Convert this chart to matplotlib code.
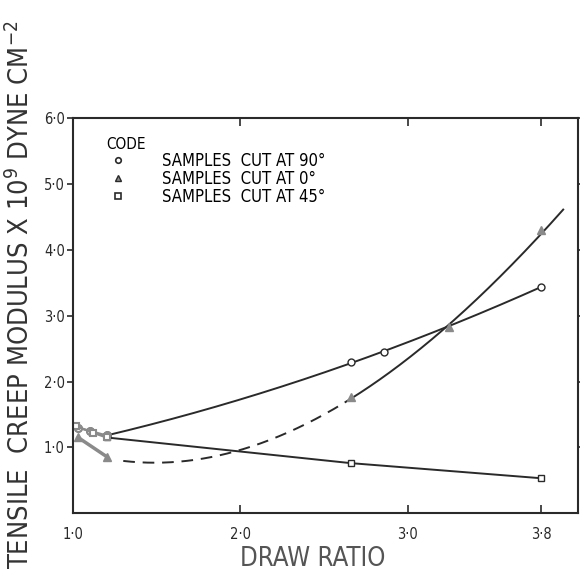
import numpy as np
import matplotlib
matplotlib.use("Agg")
import matplotlib.pyplot as plt
from matplotlib.lines import Line2D

plt.rcParams['font.family'] = ['DejaVu Sans']
plt.rcParams['font.stretch'] = 'condensed'

# ---- data ----
x90 = [1.03, 1.10, 1.20, 2.66, 2.86, 3.80]
y90 = [1.30, 1.25, 1.18, 2.29, 2.45, 3.44]

x0 = [1.03, 1.20, 2.66, 3.25, 3.80]
y0 = [1.15, 0.86, 1.77, 2.83, 4.30]

x45 = [1.02, 1.12, 1.20, 2.66, 3.80]
y45 = [1.32, 1.22, 1.15, 0.76, 0.53]

# hand-drawn guide curve for 0 deg samples (dashed part + solid part)
guide0_x = [1.30, 1.50, 2.00, 2.66, 3.25, 3.80, 3.93]
guide0_y = [0.80, 0.76, 0.95, 1.77, 2.83, 4.30, 4.58]

xticks = [1.0, 2.0, 3.0, 3.8]
xticklabels = ['1·0', '2·0', '3·0', '3·8']
yticks = [1.0, 2.0, 3.0, 4.0, 5.0, 6.0]
yticklabels = ['1·0', '2·0', '3·0', '4·0', '5·0', '6·0']

legend_labels = ['SAMPLES  CUT AT 90°', 'SAMPLES  CUT AT 0°', 'SAMPLES  CUT AT 45°']

fig = plt.figure(figsize=(5.8, 5.74), dpi=100)
ax = fig.add_axes([0.126, 0.106, 0.871, 0.688])
ax.set_xlim(1.0, 4.02)
ax.set_ylim(0, 6.0)

ink = '#2a2a2a'
grey = '#8a8a8a'

# 90 deg curve: quadratic through the plotted points beyond the cluster
p90 = np.polyfit(x90[2:], y90[2:], 2)
xx = np.linspace(x90[2], x90[-1], 200)
ax.plot(xx, np.polyval(p90, xx), color=ink, lw=1.4)
ax.plot(x90[:3], y90[:3], color=grey, lw=1.6)
ax.plot(x90, y90, 'o', ms=5, mfc='white', mec=ink, mew=1.0)
ax.plot(x90[:3], y90[:3], 'o', ms=5, mfc='white', mec=grey, mew=1.5)

# 45 deg line
ax.plot(x45[2:], y45[2:], color=ink, lw=1.4)
ax.plot(x45[:3], y45[:3], color=grey, lw=1.6)
ax.plot(x45[2:], y45[2:], 's', ms=5, mfc='white', mec=ink, mew=1.0)
ax.plot(x45[:3], y45[:3], 's', ms=5, mfc='white', mec=grey, mew=1.5)

# 0 deg curve
p0 = np.polyfit(guide0_x, guide0_y, 3)
xd = np.linspace(guide0_x[0], x0[2], 200)
ax.plot(xd, np.polyval(p0, xd), color=ink, lw=1.4, ls=(0, (6, 4)))
xs = np.linspace(x0[2], guide0_x[-1], 200)
ax.plot(xs, np.polyval(p0, xs), color=ink, lw=1.4)
ax.plot(x0[:2], y0[:2], color=grey, lw=2.5)
ax.plot(x0, y0, '^', ms=6, mfc=grey, mec=grey)

# axes styling
for s in ax.spines.values():
    s.set_linewidth(1.5)
    s.set_color(ink)
ax.set_xticks(xticks)
ax.set_xticklabels(xticklabels)
ax.set_yticks(yticks)
ax.set_yticklabels(yticklabels)
ax.tick_params(axis='x', direction='in', top=True, length=6, width=1.2,
               labelsize=10.5, pad=10, colors=ink)
ax.tick_params(axis='y', direction='out', right=True, length=4, width=1.2,
               labelsize=10.5, pad=2, colors=ink)

ax.set_xlabel('DRAW RATIO', fontsize=18.5, color='#555555', va='top')
ax.xaxis.set_label_coords(0.475, -0.083)
fig.text(0.035, 0.486, 'TENSILE  CREEP MODULUS X 10$^9$ DYNE CM$^{-2}$',
         rotation=90, ha='center', va='center', fontsize=19.5, color='#333333')

handles = [Line2D([], [], ls='none', marker='o', ms=4, mfc='white', mec=ink, mew=1.2),
           Line2D([], [], ls='none', marker='^', ms=5, mfc=grey, mec=ink),
           Line2D([], [], ls='none', marker='s', ms=4, mfc='white', mec=ink, mew=1.2)]
leg = ax.legend(handles, legend_labels, title='CODE', frameon=False,
                loc='upper left', bbox_to_anchor=(0.035, 0.99), fontsize=12,
                title_fontsize=11, handlelength=1.5, handletextpad=1.9,
                labelspacing=0.0)
leg._legend_box.align = 'left'

fig.savefig('out.png', dpi=100)
